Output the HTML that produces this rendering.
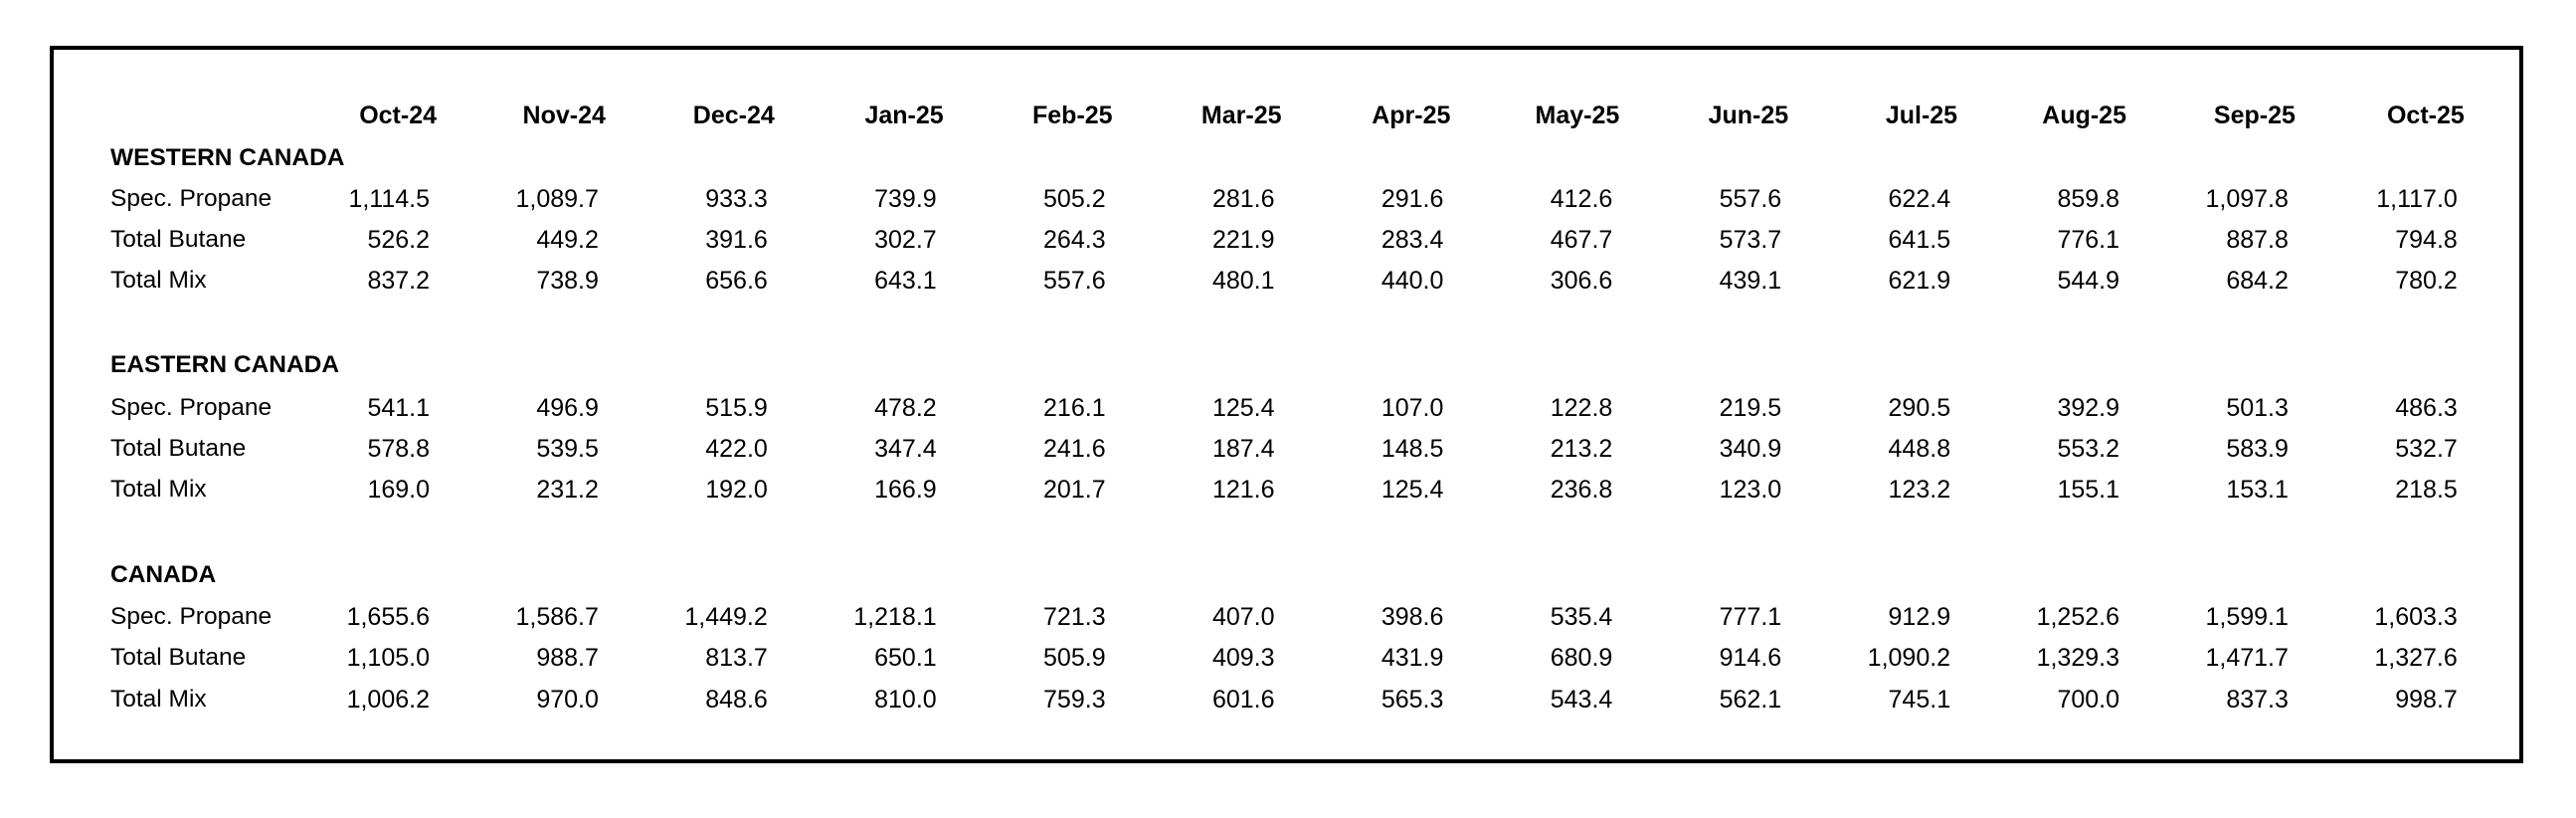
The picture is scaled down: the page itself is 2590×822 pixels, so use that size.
<!DOCTYPE html>
<html><head><meta charset="utf-8"><style>
html,body{margin:0;padding:0;background:#fff;}
body{width:2590px;height:822px;position:relative;overflow:hidden;font-family:"Liberation Sans",Arial,sans-serif;font-size:25px;color:#000;}
.box{position:absolute;left:50px;top:46px;width:2479px;height:713px;border:4px solid #000;}
.t{position:absolute;line-height:30px;white-space:nowrap;}
.l{font-size:24.5px;}
.r{text-align:right;width:160px;}
.b{font-weight:bold;}
</style></head><body>
<div class="box"></div>
<div id="c"></div>
<script>
var months=["Oct-24","Nov-24","Dec-24","Jan-25","Feb-25","Mar-25","Apr-25","May-25","Jun-25","Jul-25","Aug-25","Sep-25","Oct-25"];
var sections=[
["WESTERN CANADA",159,[["Spec. Propane",200,"1,114.5 1,089.7 933.3 739.9 505.2 281.6 291.6 412.6 557.6 622.4 859.8 1,097.8 1,117.0"],
["Total Butane",241,"526.2 449.2 391.6 302.7 264.3 221.9 283.4 467.7 573.7 641.5 776.1 887.8 794.8"],
["Total Mix",282,"837.2 738.9 656.6 643.1 557.6 480.1 440.0 306.6 439.1 621.9 544.9 684.2 780.2"]]],
["EASTERN CANADA",367,[["Spec. Propane",410,"541.1 496.9 515.9 478.2 216.1 125.4 107.0 122.8 219.5 290.5 392.9 501.3 486.3"],
["Total Butane",451,"578.8 539.5 422.0 347.4 241.6 187.4 148.5 213.2 340.9 448.8 553.2 583.9 532.7"],
["Total Mix",492,"169.0 231.2 192.0 166.9 201.7 121.6 125.4 236.8 123.0 123.2 155.1 153.1 218.5"]]],
["CANADA",578,[["Spec. Propane",620,"1,655.6 1,586.7 1,449.2 1,218.1 721.3 407.0 398.6 535.4 777.1 912.9 1,252.6 1,599.1 1,603.3"],
["Total Butane",661,"1,105.0 988.7 813.7 650.1 505.9 409.3 431.9 680.9 914.6 1,090.2 1,329.3 1,471.7 1,327.6"],
["Total Mix",703,"1,006.2 970.0 848.6 810.0 759.3 601.6 565.3 543.4 562.1 745.1 700.0 837.3 998.7"]]]];
var h="";
function colR(i){return 432+i*169.9;}
months.forEach(function(m,i){h+='<div class="t r b" style="left:'+(colR(i)+7-160)+'px;top:101px">'+m+'</div>';});
sections.forEach(function(s){
h+='<div class="t b l" style="left:111px;top:'+(s[1]-15)+'px">'+s[0]+'</div>';
s[2].forEach(function(row){
h+='<div class="t l" style="left:111px;top:'+(row[1]-15)+'px">'+row[0]+'</div>';
row[2].split(" ").forEach(function(v,i){h+='<div class="t r" style="left:'+(colR(i)-160)+'px;top:'+(row[1]-15)+'px">'+v+'</div>';});
});
});
document.getElementById("c").innerHTML=h;
</script>
</body></html>
